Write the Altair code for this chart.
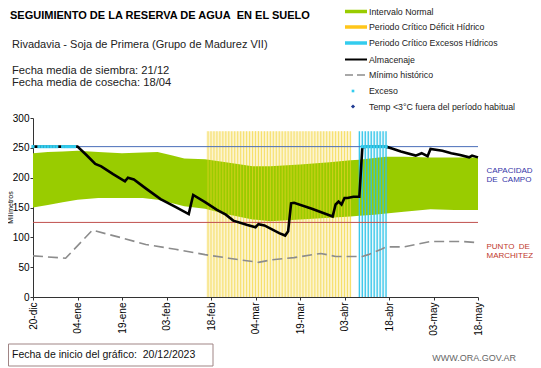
import altair as alt
import pandas as pd

# ---------------- data ----------------
# x axis: days since 20-dic-2023
tick_days = [0, 15, 30, 45, 60, 75, 90, 105, 120, 135, 150]
tick_labels = ["20-dic", "04-ene", "19-ene", "03-feb", "18-feb", "04-mar",
               "19-mar", "03-abr", "18-abr", "03-may", "18-may"]
y_ticks = [0, 50, 100, 150, 200, 250, 300]

# Intervalo normal (green band)
band_days = [0, 5, 10, 15, 22, 30, 37, 42, 47, 51, 58, 65, 74, 80, 90, 100, 107, 110, 115, 119, 125, 134, 142, 150]
band_upper = [241, 243, 244, 245, 243, 241, 242, 243, 237, 232, 231, 226, 219, 219, 222, 226, 229, 230, 233, 235, 235, 234, 234, 234]
band_lower = [150, 154, 159, 163, 166, 166, 166, 163, 157, 152, 148, 139, 130, 127, 130, 133, 135, 136, 138, 140, 143, 147, 146, 146]

# Almacenaje
alm_days = [0, 15, 18, 21, 23, 27, 31, 32, 34, 38, 43, 48, 52.5, 53, 54, 58, 62, 65, 67.5, 72, 75, 76,
            78, 83, 85, 86, 87, 88, 94, 101, 102, 103, 104, 105, 106, 108, 110, 111, 112, 119,
            121, 124, 129, 131, 133, 134, 138, 141, 144, 147, 148, 150]
alm_vals = [252, 252, 238, 223, 219, 206, 194, 200, 197, 182, 164, 151, 139, 150, 171, 159, 146, 138, 128, 121, 117, 122,
            120, 107, 103, 110, 157, 158, 148, 135, 155, 160, 155, 166, 166, 168, 168, 250, 252, 252,
            249, 244, 237, 241, 236, 248, 245, 241, 238, 234, 237, 234]

# Minimo historico
min_days = [0, 11, 20, 30, 38, 48, 58, 66, 76, 80, 88, 97, 102, 111, 113, 117, 119, 125, 134, 145, 150]
min_vals = [69, 65, 112, 99, 88, 80, 71, 65, 58, 62, 66, 73, 68, 68, 71, 79, 84, 84, 93, 93, 91]

capacidad = 252
marchitez = 125

# critical periods
deficit_start, deficit_end = 58.5, 107.3
exc_start, exc_end = 110, 119.3
period_top = 278
deficit_days = list(range(59, 108))
exceso_period_days = list(range(110, 120))
exceso_days = [0, 2, 3, 4, 5, 6, 7, 8, 10, 11, 12, 13, 14] + list(range(111, 120))

# ---------------- helpers ----------------
FONT = "Liberation Sans"
W, H = 445, 179

js_days = "[" + ",".join(str(d) for d in tick_days) + "]"
js_labels = "[" + ",".join("'" + s + "'" for s in tick_labels) + "]"

x_axis = alt.Axis(values=tick_days, labelExpr=f"{js_labels}[indexof({js_days}, datum.value)]",
                  labelAngle=-90, labelFontSize=10, labelFont=FONT, labelColor="#000",
                  domainColor="#333", tickColor="#333", tickSize=3, labelPadding=2,
                  grid=False, title=None)
y_axis = alt.Axis(values=y_ticks, labelFontSize=10, labelFont=FONT, labelColor="#000",
                  domainColor="#333", tickColor="#333", tickSize=3, labelPadding=1,
                  grid=False, title=None)
xs = alt.Scale(domain=[0, 150], nice=False, zero=False)
ys = alt.Scale(domain=[0, 300], nice=False)


def X(field):
    return alt.X(field, type="quantitative", scale=xs, axis=x_axis)


def Y(field):
    return alt.Y(field, type="quantitative", scale=ys, axis=y_axis)


one = alt.Data(values=[{}])


def txt(s, x, y, size, color="#000", weight="normal", align="left", angle=0, font=FONT):
    return alt.Chart(one).mark_text(text=s, fontSize=size, color=color, fontWeight=weight,
                                    align=align, baseline="middle", angle=angle, font=font).encode(
        x=alt.value(x), y=alt.value(y))


def hrule(x1, x2, y, color, width, dash=None):
    kw = dict(color=color, strokeWidth=width)
    if dash:
        kw["strokeDash"] = dash
    return alt.Chart(one).mark_rule(**kw).encode(x=alt.value(x1), x2=alt.value(x2), y=alt.value(y))


# ---------------- chart layers ----------------
band_df = pd.DataFrame({"d": band_days, "up": band_upper, "lo": band_lower})
alm_df = pd.DataFrame({"d": alm_days, "v": alm_vals})
min_df = pd.DataFrame({"d": min_days, "v": min_vals})
def_df = pd.DataFrame({"d": deficit_days, "top": [period_top] * len(deficit_days), "b": [0] * len(deficit_days)})
excp_df = pd.DataFrame({"d": exceso_period_days, "top": [period_top] * len(exceso_period_days),
                        "b": [0] * len(exceso_period_days)})
exc_df = pd.DataFrame({"d": exceso_days, "v": [capacidad] * len(exceso_days)})
per_df = pd.DataFrame({"s": [deficit_start, exc_start], "e": [deficit_end, exc_end],
                       "top": [period_top, period_top], "b": [0, 0], "k": ["def", "exc"]})

bg = alt.Chart(per_df).mark_rect().encode(
    x=X("s"), x2="e", y=Y("b"), y2="top",
    color=alt.Color("k:N", scale=alt.Scale(domain=["def", "exc"], range=["#FCF4CF", "#EAF8FC"]), legend=None))

band = alt.Chart(band_df).mark_area(color="#99CC00", opacity=1).encode(x=X("d"), y=Y("up"), y2="lo")

def_rules = alt.Chart(def_df).mark_rule(color="#F2D22A", strokeWidth=1.1, opacity=0.6).encode(
    x=X("d"), y=Y("b"), y2="top")
exc_rules = alt.Chart(excp_df).mark_rule(color="#2DC3E8", strokeWidth=1.3, opacity=0.95).encode(
    x=X("d"), y=Y("b"), y2="top")

cap_line = alt.Chart(pd.DataFrame({"v": [capacidad]})).mark_rule(color="#4A6DB8", strokeWidth=1).encode(y=Y("v"))
pmp_line = alt.Chart(pd.DataFrame({"v": [marchitez]})).mark_rule(color="#C0504D", strokeWidth=1).encode(y=Y("v"))

min_line = alt.Chart(min_df).mark_line(color="#8C8C8C", strokeWidth=1.6, strokeDash=[10, 5]).encode(
    x=X("d"), y=Y("v"))
alm_line = alt.Chart(alm_df).mark_line(color="#000000", strokeWidth=2.6).encode(x=X("d"), y=Y("v"))
exc_pts = alt.Chart(exc_df).mark_square(color="#33CCEE", size=10, opacity=1).encode(x=X("d"), y=Y("v"))

# ---------------- texts ----------------
NB = "\u00a0"
texts = [
    txt("SEGUIMIENTO DE LA RESERVA DE AGUA" + NB + " EN EL SUELO", -23, -102.5, 11, weight="bold"),
    txt("Rivadavia - Soja de Primera (Grupo de Madurez VII)", -21, -73, 11, color="#222"),
    txt("Fecha media de siembra: 21/12", -21, -47.5, 11.2, color="#222"),
    txt("Fecha media de cosecha: 18/04", -21, -35.5, 11.2, color="#222"),
    txt("Milímetros", -22.3, 89.5, 7, angle=270, align="center"),
    txt("CAPACIDAD", 453.5, 52.5, 8, color="#3535A8"),
    txt("DE" + NB + " CAMPO", 453.5, 61.5, 8, color="#3535A8"),
    txt("PUNTO" + NB + " DE", 453.5, 128.5, 8, color="#C0392B"),
    txt("MARCHITEZ", 453.5, 137.5, 8, color="#C0392B"),
    txt("Fecha de inicio del gráfico:" + NB + NB + "20/12/2023", -21, 237, 10.5, color="#111"),
    txt("WWW.ORA.GOV.AR", 483, 240, 9, color="#666", align="right"),
]

# bottom box
box = alt.Chart(one).mark_rect(fill="white", stroke="#A08585", strokeWidth=1).encode(
    x=alt.value(-24.5), x2=alt.value(180), y=alt.value(226), y2=alt.value(248))

# ---------------- legend ----------------
LX1, LX2, LT = 312, 334, 336
rows = [-106.5, -91, -75, -58.5, -43, -27, -11.5]
leg_items = [
    "Intervalo Normal", "Periodo Crítico Déficit Hídrico", "Periodo Crítico Excesos Hídricos",
    "Almacenaje", "Mínimo histórico", "Exceso", "Temp <3°C fuera del período habitual"]
legend = [
    hrule(LX1, LX2, rows[0], "#99CC00", 3.5),
    hrule(LX1, LX2, rows[1], "#FFC61A", 3.5),
    hrule(LX1, LX2, rows[2], "#33CCEE", 3.5),
    hrule(LX1, LX2, rows[3], "#000000", 2),
    hrule(LX1, LX2, rows[4], "#8C8C8C", 1.6, dash=[8, 4]),
    alt.Chart(one).mark_square(color="#33CCEE", size=7, opacity=1).encode(x=alt.value(320), y=alt.value(rows[5])),
    alt.Chart(one).mark_point(shape="diamond", filled=True, color="#1F3A93", size=18, opacity=1).encode(
        x=alt.value(320), y=alt.value(rows[6])),
]
leg_texts = [txt(s, LT, r, 8.8, color="#222") for s, r in zip(leg_items, rows)]

chart = alt.layer(
    bg, band, def_rules, exc_rules, cap_line, pmp_line, min_line, alm_line, exc_pts,
    box, *texts, *legend, *leg_texts
).properties(
    width=W, height=H,
    padding={"left": 25, "top": 110, "right": 55, "bottom": 71},
    autosize=alt.AutoSizeParams(type="none"),
    background="white",
).configure_view(strokeWidth=0)

chart.save("out.html", embed_options={"renderer": "svg", "actions": False})
